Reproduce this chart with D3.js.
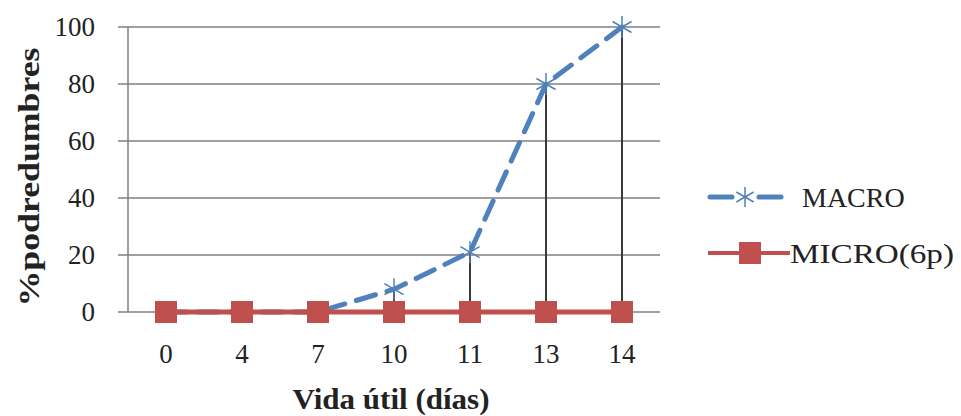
<!DOCTYPE html>
<html><head><meta charset="utf-8">
<script src="https://cdn.jsdelivr.net/npm/d3@7"></script>
<style>body{margin:0;background:#fff}svg{display:block}text{font-family:"Liberation Serif","Times New Roman","DejaVu Serif",serif}</style>
</head><body>
<svg id="c" width="961" height="416"></svg>
<script>
const categories = ["0","4","7","10","11","13","14"];
const macro = [0,0,0,8,21,80,100];
const micro = [0,0,0,0,0,0,0];
const yTicks = [0,20,40,60,80,100];
const seriesNames = ["MACRO","MICRO(6p)"];
const colors = ["#4F81BD","#C0504D"];

const svg = d3.select("#c");
const L = 128, R = 660, T = 27, B = 312;
const x = d3.scaleBand().domain(categories).range([L,R]);
const y = d3.scaleLinear().domain([0,100]).range([B,T]);

svg.append("g").selectAll("line").data(yTicks).join("line")
  .attr("x1",L-10).attr("x2",R).attr("y1",d=>y(d)).attr("y2",d=>y(d))
  .attr("stroke","#7f7f7f").attr("stroke-width",1.5);
svg.append("line").attr("x1",L).attr("x2",L).attr("y1",T).attr("y2",B)
  .attr("stroke","#7f7f7f").attr("stroke-width",1.5);
svg.append("g").selectAll("text").data(yTicks).join("text")
  .attr("x",L-33).attr("y",d=>y(d)).attr("dy","0.35em").attr("text-anchor","end")
  .attr("font-size",27).attr("fill","#222").text(d=>d);
svg.append("g").selectAll("text").data(categories).join("text")
  .attr("x",d=>x(d)+x.bandwidth()/2).attr("y",354).attr("dy","0.35em").attr("text-anchor","middle")
  .attr("font-size",27).attr("fill","#222").text(d=>d);

const cx = (d,i)=>x(categories[i])+x.bandwidth()/2;
svg.append("g").selectAll("line").data(macro).join("line")
  .attr("x1",cx).attr("x2",cx).attr("y1",d=>y(d)).attr("y2",y(0))
  .attr("stroke","#3a3a3a").attr("stroke-width",2);

const line = d3.line().x(cx).y(d=>y(d));
svg.append("path").datum(macro).attr("d",line).attr("fill","none")
  .attr("stroke",colors[0]).attr("stroke-width",5).attr("stroke-dasharray","20,12").attr("stroke-linecap","round");
function star(g,px,py,s){
  const a=s/2;
  [[0,-a,0,a],[-a*0.87,-a*0.5,a*0.87,a*0.5],[-a*0.87,a*0.5,a*0.87,-a*0.5]].forEach(l=>{
    g.append("line").attr("x1",px+l[0]).attr("y1",py+l[1]).attr("x2",px+l[2]).attr("y2",py+l[3])
      .attr("stroke",colors[0]).attr("stroke-width",1.5);
  });
}
const mg = svg.append("g");
macro.forEach((d,i)=>star(mg,cx(d,i),y(d),22));

svg.append("path").datum(micro).attr("d",line).attr("fill","none")
  .attr("stroke",colors[1]).attr("stroke-width",5);
svg.append("g").selectAll("rect").data(micro).join("rect")
  .attr("x",(d,i)=>cx(d,i)-11).attr("y",d=>y(d)-11).attr("width",22).attr("height",22)
  .attr("fill",colors[1]);

const lg = svg.append("g");
[[710,732],[759,781]].forEach(s=>{
  lg.append("line").attr("x1",s[0]).attr("x2",s[1]).attr("y1",197).attr("y2",197)
    .attr("stroke",colors[0]).attr("stroke-width",5).attr("stroke-linecap","round");
});
star(lg,745,197,20);
lg.append("text").attr("x",802).attr("y",197).attr("dy","0.35em")
  .attr("font-size",28).attr("fill","#222").text(seriesNames[0]);
lg.append("line").attr("x1",708).attr("x2",790).attr("y1",253).attr("y2",253)
  .attr("stroke",colors[1]).attr("stroke-width",4);
lg.append("rect").attr("x",739).attr("y",242).attr("width",22).attr("height",22).attr("fill",colors[1]);
lg.append("text").attr("x",790).attr("y",253).attr("dy","0.35em")
  .attr("font-size",28).attr("fill","#222").attr("textLength",164).attr("lengthAdjust","spacingAndGlyphs")
  .text(seriesNames[1]);

svg.append("text").attr("x",391).attr("y",398).attr("dy","0.35em").attr("text-anchor","middle")
  .attr("font-weight","bold").attr("font-size",30).attr("fill","#222")
  .attr("textLength",197).attr("lengthAdjust","spacingAndGlyphs")
  .text("Vida útil (días)");
svg.append("text").attr("transform","translate(28,177) rotate(-90)").attr("dy","0.35em")
  .attr("text-anchor","middle").attr("font-weight","bold")
  .attr("font-size",30).attr("fill","#222")
  .attr("textLength",259).attr("lengthAdjust","spacingAndGlyphs").text("%podredumbres");
</script>
</body></html>
